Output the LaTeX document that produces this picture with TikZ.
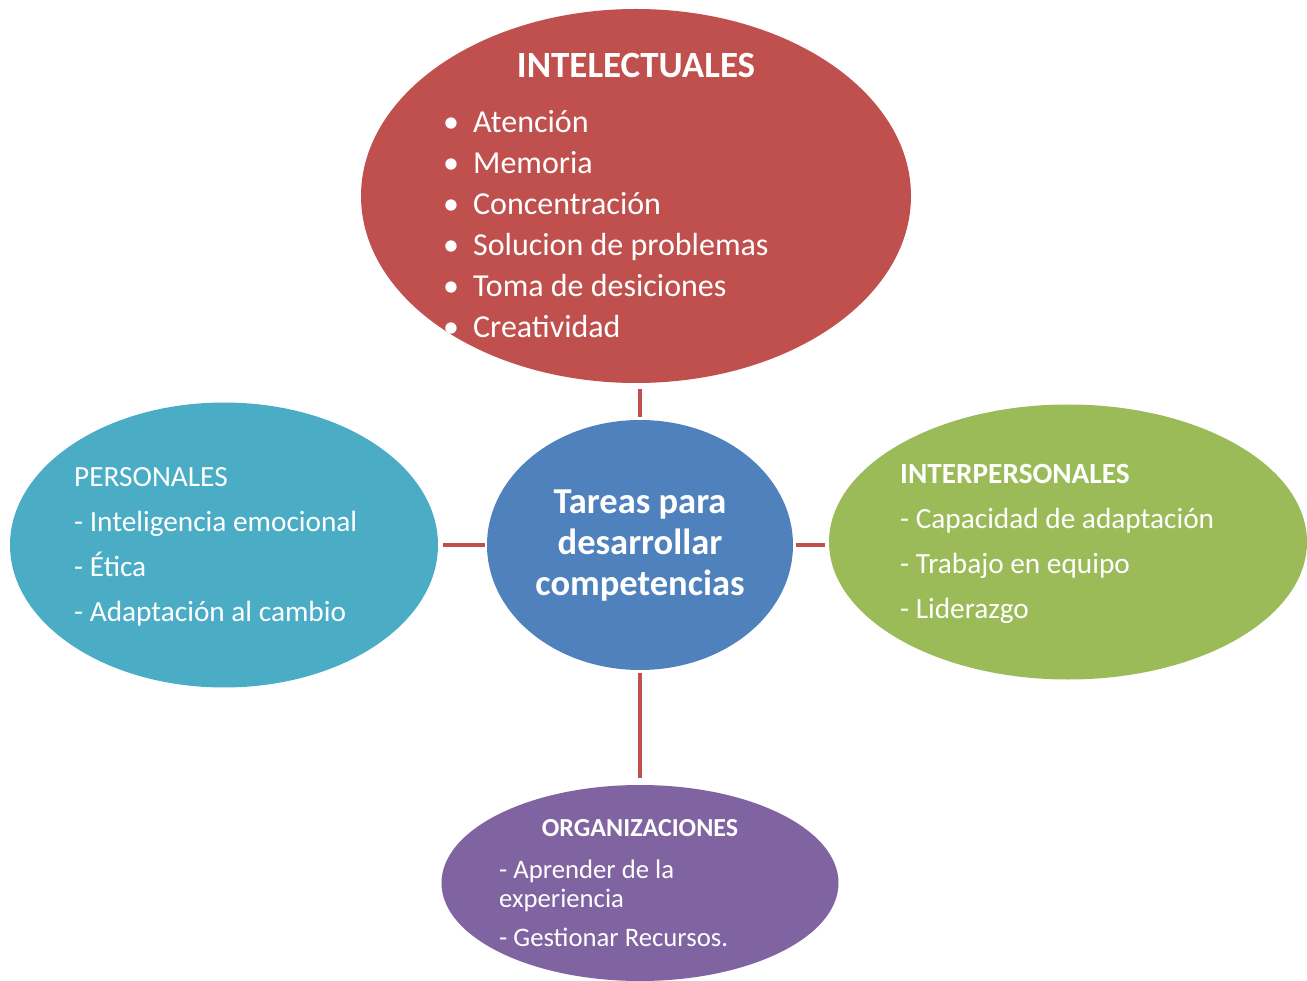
\documentclass[tikz,border=0pt]{standalone}
\usepackage{fontspec}
\setmainfont{Carlito}
\usetikzlibrary{shapes.geometric,positioning}
\definecolor{rojo}{HTML}{C0504D}
\definecolor{azul}{HTML}{4F81BD}
\definecolor{turquesa}{HTML}{4BACC6}
\definecolor{verde}{HTML}{9BBB59}
\definecolor{morado}{HTML}{8064A2}

\begin{document}
\begin{tikzpicture}[x=1pt, y=-1pt,
    blob/.style={ellipse, draw=none, inner sep=0pt},
    txt/.style={text=white, inner sep=0pt, align=left, anchor=base west},
    enlace/.style={draw=rojo, line width=4pt}
]
    \useasboundingbox (0,0) rectangle (1307,981);

    % Elipses
    \node[blob, fill=rojo, minimum width=550pt, minimum height=374pt] (intel) at (636,196) {};
    \node[blob, fill=azul, minimum width=306pt, minimum height=250pt] (core) at (640,545) {};
    \node[blob, fill=turquesa, minimum width=428pt, minimum height=285pt] (pers) at (224,545) {};
    \node[blob, fill=verde, minimum width=478pt, minimum height=275pt] (inter) at (1068,542) {};
    \node[blob, fill=morado, minimum width=397pt, minimum height=196pt] (org) at (640,883) {};

    % Enlaces
    \draw[enlace, shorten <=6pt, shorten >=3pt] (intel.south -| core.north) -- (core.north);
    \draw[enlace, shorten <=5pt, shorten >=2pt] (pers.east) -- (core.west);
    \draw[enlace, shorten <=3pt, shorten >=4pt] (core.east) -- (core.east -| inter.west);
    \draw[enlace, shorten <=3pt, shorten >=7pt] (core.south) -- (org.north);

    % Textos (anclados en la linea base de la ultima fila)
    \node[txt, anchor=base, font=\bfseries\fontsize{37}{40}\selectfont] (intel-tit) at (636,78) {INTELECTUALES};
    \node[txt, font=\fontsize{32}{41}\selectfont] (intel-lista) at (443,338)
        {\makebox[30pt][l]{•}Atención\\
         \makebox[30pt][l]{•}Memoria\\
         \makebox[30pt][l]{•}Concentración\\
         \makebox[30pt][l]{•}Solucion de problemas\\
         \makebox[30pt][l]{•}Toma de desiciones\\
         \makebox[30pt][l]{•}Creatividad};
    \node[txt, anchor=base, align=center, font=\bfseries\fontsize{36.5}{41}\selectfont] (core-txt) at (640,595)
        {Tareas para\\desarrollar\\competencias};
    \node[txt, font=\fontsize{29.3}{45}\selectfont] (pers-txt) at (74,621)
        {PERSONALES\\- Inteligencia emocional\\- Ética\\- Adaptación al cambio};
    \node[txt, font=\fontsize{29.3}{45}\selectfont] (inter-txt) at (900,618)
        {\textbf{INTERPERSONALES}\\- Capacidad de adaptación\\- Trabajo en equipo\\- Liderazgo};
    \node[txt, anchor=base, font=\bfseries\fontsize{26}{28}\selectfont] (org-tit) at (640,836) {ORGANIZACIONES};
    \node[txt, font=\fontsize{26.7}{29}\selectfont] (org-lista) at (499,946)
        {- Aprender de la\\experiencia\\[10pt]- Gestionar Recursos.};
\end{tikzpicture}
\end{document}
